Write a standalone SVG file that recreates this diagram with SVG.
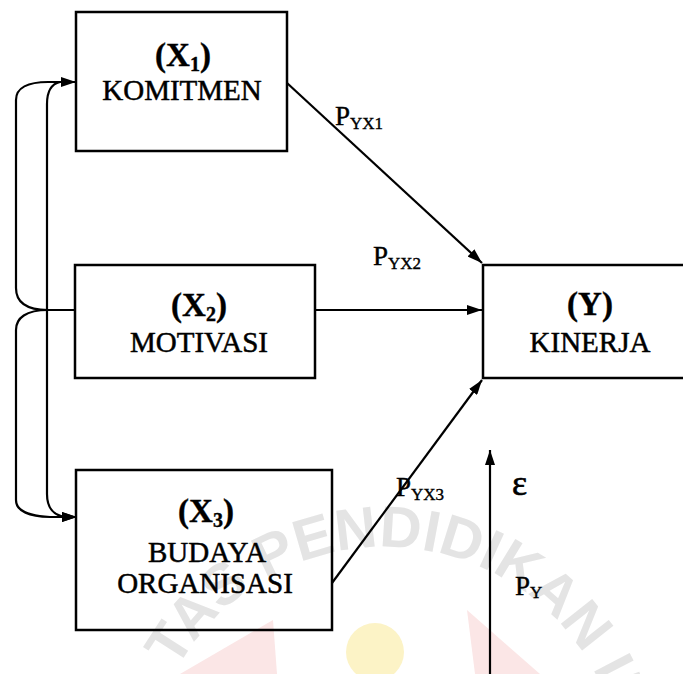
<svg xmlns="http://www.w3.org/2000/svg" width="683" height="674" viewBox="0 0 683 674">
<style>
.box{fill:none;stroke:#000;stroke-width:2.5}
.ln{fill:none;stroke:#000;stroke-width:2.2}
.serif{font-family:'Liberation Serif','DejaVu Serif',serif}
.t{font-size:29px;fill:#000;stroke:#000;stroke-width:0.5;text-anchor:middle}
.h{font-size:33px;font-weight:bold;fill:#000;stroke:#000;stroke-width:0.4;text-anchor:middle}
.lb{font-size:27px;fill:#000;stroke:#000;stroke-width:0.4}
.eps{font-size:36px;fill:#000;stroke:#000;stroke-width:0.6}
.sub{font-size:17px}
.wm{font-family:'Liberation Sans',Arial,sans-serif;font-size:58px;font-weight:bold;fill:#e4e4e4}
</style>
<defs>
<marker id="ah" viewBox="0 0 15 10" refX="15" refY="5" markerWidth="15" markerHeight="10" orient="auto" markerUnits="userSpaceOnUse">
<path d="M0,0 L15,5 L0,10 z" fill="#000"/>
</marker>
<path id="arc" d="M176.8,669.6 A238,238 0 0 1 620.7,751.9"/>
</defs>
<rect width="683" height="674" fill="#fff"/>
<g id="watermark">
<circle cx="375" cy="652" r="29" fill="#fcf3c6"/>
<polygon points="273,620 180,674 277,674" fill="#fbe6e6"/>
<polygon points="467,610 475,674 540,674" fill="#fbe6e6"/>
<text class="wm"><textPath href="#arc">TAS PENDIDIKAN IN</textPath></text>
</g>
<g id="connectors">
<path class="ln" d="M287,83 L482,263" marker-end="url(#ah)"/>
<path class="ln" d="M315,310 L482,310" marker-end="url(#ah)"/>
<path class="ln" d="M332,583 L482,380" marker-end="url(#ah)"/>
<path class="ln" d="M490,674 L490,450" marker-end="url(#ah)"/>
<path class="ln" d="M75,310 L48,310 C26,310 16,302 16,288 L16,100 C16,88 28,82 48,82 L76,82" marker-end="url(#ah)"/>
<path class="ln" d="M60,82 C51,84 47,92 47,104 L47,494 C47,508 54,516 66,517 L77,517" marker-end="url(#ah)"/>
<path class="ln" d="M48,310 C26,310 16,318 16,330 L16,500 C16,512 30,516 50,517 L77,517" marker-end="url(#ah)"/>
</g>
<g id="labels" class="serif" font-family="Liberation Serif, DejaVu Serif, serif">
<text class="lb" x="335" y="125">P<tspan class="sub" dy="4">YX1</tspan></text>
<text class="lb" x="373" y="265">P<tspan class="sub" dy="4">YX2</tspan></text>
<text class="lb" x="396" y="496">P<tspan class="sub" dy="4">YX3</tspan></text>
<text class="eps" x="512" y="495">ε</text>
<text class="lb" x="515" y="595">P<tspan class="sub" dy="3">Y</tspan></text>
</g>
<g id="X1" class="serif" font-family="Liberation Serif, DejaVu Serif, serif">
<rect class="box" x="76" y="12" width="211" height="139"/>
<text class="h" x="183" y="66">(X<tspan font-size="20" dy="5">1</tspan><tspan dy="-5">)</tspan></text>
<text class="t" x="182" y="100">KOMITMEN</text>
</g>
<g id="X2" class="serif" font-family="Liberation Serif, DejaVu Serif, serif">
<rect class="box" x="75" y="265" width="240" height="113"/>
<text class="h" x="199" y="316">(X<tspan font-size="20" dy="5">2</tspan><tspan dy="-5">)</tspan></text>
<text class="t" x="199" y="352">MOTIVASI</text>
</g>
<g id="X3" class="serif" font-family="Liberation Serif, DejaVu Serif, serif">
<rect class="box" x="76" y="470" width="256" height="160"/>
<text class="h" x="206" y="522">(X<tspan font-size="20" dy="5">3</tspan><tspan dy="-5">)</tspan></text>
<text class="t" x="207" y="562">BUDAYA</text>
<text class="t" x="205" y="593">ORGANISASI</text>
</g>
<g id="Y" class="serif" font-family="Liberation Serif, DejaVu Serif, serif">
<rect class="box" x="483" y="265" width="215" height="113"/>
<text class="h" x="590" y="315">(Y)</text>
<text class="t" x="590" y="352">KINERJA</text>
</g>
</svg>
